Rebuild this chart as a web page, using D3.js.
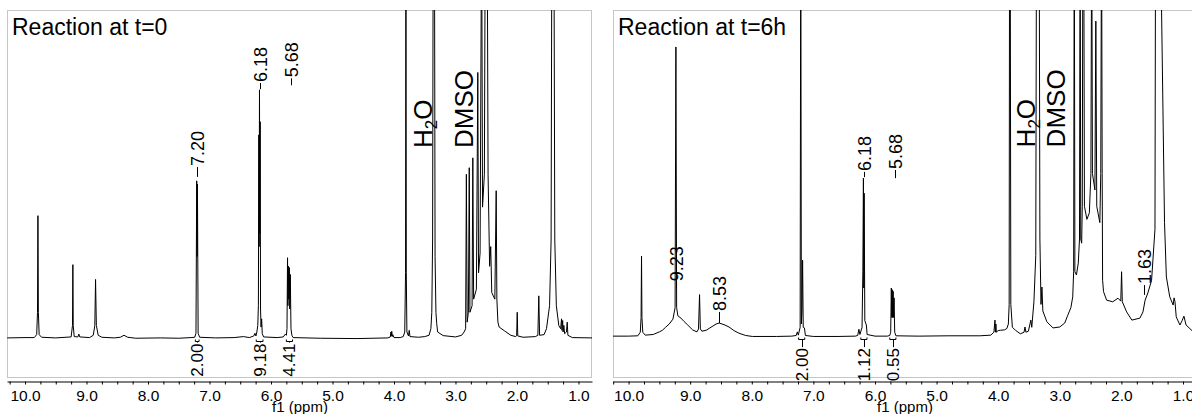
<!DOCTYPE html>
<html>
<head>
<meta charset="utf-8">
<script src="https://cdn.jsdelivr.net/npm/d3@7"></script>
<style>
  body { margin: 0; background: #fff; }
  svg { display: block; font-family: "Liberation Sans", Arial, Helvetica, sans-serif; }
</style>
</head>
<body>
<svg id="chart" width="1192" height="414"></svg>
<script>
// spectra as [ppm, intensity] pairs, intensity 100 = top of the frame
const spectrumT0 = [
  [10.29, 0.2], [10.0, 0.3], [9.85, 0.3], [9.81, 1.2], [9.797, 8], [9.79, 37.4], [9.783, 8], [9.77, 1.2], [9.73, 0.4], [9.5, 0.2],
  [9.25, 0.5], [9.228, 4], [9.222, 22.5], [9.216, 4], [9.20, 0.6], [9.14, 0.5], [9.125, 1.4], [9.11, 0.5],
  [8.95, 0.3], [8.89, 1], [8.865, 4], [8.853, 18], [8.84, 4], [8.81, 1], [8.75, 0.4],
  [8.55, 0.2], [8.45, 0.4], [8.39, 1], [8.33, 0.4], [8.2, 0.1], [7.8, 0.2], [7.5, 0.1], [7.3, 0.3],
  [7.24, 0.4], [7.22, 1.6], [7.208, 48], [7.202, 25], [7.196, 47], [7.185, 1.6], [7.16, 0.4],
  [6.9, 0.2], [6.6, 0.3], [6.45, 0.6], [6.35, 0.3], [6.28, 0.8], [6.26, 1.6], [6.245, 0.8], [6.23, 2],
  [6.215, 4], [6.205, 10], [6.198, 62], [6.193, 28], [6.187, 75.7], [6.182, 32], [6.176, 66], [6.17, 9],
  [6.162, 3.5], [6.152, 6], [6.142, 1.5], [6.12, 0.5],
  [5.9, 0.3], [5.80, 0.5], [5.765, 1.4], [5.75, 1], [5.74, 3], [5.731, 24.6], [5.725, 10], [5.716, 22], [5.71, 12],
  [5.701, 21.6], [5.695, 9], [5.686, 19.5], [5.675, 3], [5.66, 1], [5.64, 0.3],
  [5.2, 0.1], [4.6, 0], [4.1, 0.2], [4.06, 0.5], [4.05, 2], [4.044, 0.8], [4.036, 2.2], [4.03, 0.6], [4.02, 1.2],
  [4.0, 0.3], [3.9, 0.3], [3.85, 0.6],
  [3.825, 2], [3.812, 20], [3.806, 130], [3.80, 20], [3.79, 2], [3.765, 0.8], [3.752, 2.5], [3.74, 0.6], [3.6, 0.4],
  [3.5, 0.6], [3.43, 1], [3.40, 3],
  [3.385, 8], [3.372, 30], [3.362, 130], [3.342, 130], [3.332, 25], [3.318, 8], [3.305, 4.5], [3.29, 2], [3.2, 0.9],
  [3.0, 0.5], [2.9, 1], [2.86, 2],
  [2.835, 3], [2.823, 50], [2.81, 5], [2.79, 8], [2.776, 52], [2.765, 8], [2.73, 10], [2.718, 55], [2.705, 12],
  [2.66, 15], [2.637, 81], [2.625, 20], [2.60, 26], [2.575, 130], [2.56, 40], [2.53, 50], [2.515, 130], [2.50, 130],
  [2.485, 130], [2.47, 50], [2.445, 22], [2.427, 28], [2.41, 14], [2.36, 12], [2.338, 45], [2.327, 12], [2.31, 5],
  [2.29, 3.5], [2.2, 2.3], [2.1, 1], [2.02, 0.6],
  [2.005, 1], [1.996, 8], [1.987, 0.8], [1.9, 0.4], [1.7, 0.6], [1.66, 1], [1.645, 13], [1.632, 1], [1.56, 1.2],
  [1.52, 3], [1.47, 10], [1.445, 30], [1.432, 130], [1.40, 130], [1.385, 30], [1.36, 10], [1.32, 4], [1.29, 3],
  [1.275, 6], [1.268, 2.5], [1.257, 5.5], [1.25, 2], [1.238, 4], [1.225, 1.5], [1.195, 2], [1.183, 5], [1.172, 1],
  [1.1, 0.3], [0.78, 0.2]
]

const spectrumT6 = [
  [10.253, 0.3], [10.0, 0.3], [9.85, 0.4], [9.81, 1.5], [9.797, 6], [9.79, 24.8], [9.783, 6], [9.77, 1.5], [9.73, 0.6],
  [9.6, 0.8], [9.5, 1.6], [9.45, 2.1], [9.40, 3], [9.34, 4], [9.28, 5.5], [9.245, 9], [9.232, 88.7], [9.22, 9],
  [9.20, 6.5], [9.15, 5.8], [9.10, 4.8], [9.04, 3.7], [8.96, 2.2], [8.89, 1.6], [8.865, 2.5], [8.848, 13], [8.835, 2.5],
  [8.81, 1.8], [8.74, 2.1], [8.68, 2.8], [8.63, 3.4], [8.58, 4], [8.53, 4.3], [8.45, 3.8], [8.37, 3.1], [8.29, 2],
  [8.21, 1.2], [8.10, 0.5], [7.99, 0.2], [7.6, 0.2], [7.35, 0.3],
  [7.28, 0.5], [7.26, 1.6], [7.245, 0.6], [7.215, 3], [7.205, 130], [7.195, 4], [7.185, 8], [7.175, 23.5], [7.165, 3],
  [7.145, 2.8], [7.13, 0.5], [7.0, 0.2], [6.6, 0.2], [6.32, 0.3],
  [6.28, 0.5], [6.262, 2.4], [6.245, 0.8], [6.21, 3], [6.197, 20], [6.188, 48.6], [6.182, 15], [6.176, 44], [6.165, 5],
  [6.14, 3.7], [6.128, 0.8], [6.0, 0.3], [5.8, 0.3],
  [5.76, 0.5], [5.745, 1.5], [5.735, 15], [5.728, 6], [5.72, 14.5], [5.714, 6], [5.705, 14], [5.699, 6], [5.69, 12],
  [5.68, 1.5], [5.66, 0.4], [5.3, 0.3], [4.8, 0.4], [4.3, 0.4], [4.12, 0.6], [4.07, 1.5], [4.052, 5.2], [4.046, 1.5],
  [4.037, 4], [4.03, 1.5], [4.0, 2], [3.96, 2.1], [3.90, 2.2], [3.86, 2.6], [3.835, 4], [3.822, 10], [3.815, 130],
  [3.805, 130], [3.795, 10], [3.77, 3], [3.72, 2.1], [3.64, 1], [3.58, 1.5], [3.565, 3.1], [3.55, 1.5], [3.51, 1.8],
  [3.47, 5.2], [3.455, 3], [3.42, 10.8], [3.39, 25], [3.378, 130], [3.335, 130], [3.323, 30], [3.305, 10], [3.29, 15.3],
  [3.275, 8], [3.21, 4.7], [3.11, 2.8], [3.0, 3.1], [2.92, 4.3], [2.87, 6.7],
  [2.82, 9], [2.79, 12.3], [2.775, 20], [2.765, 130], [2.755, 20], [2.73, 19], [2.70, 22.6], [2.68, 30], [2.67, 130],
  [2.66, 30], [2.645, 28.7], [2.635, 40], [2.625, 130], [2.612, 130], [2.60, 40], [2.56, 36], [2.52, 38], [2.495, 50],
  [2.482, 130], [2.47, 50], [2.43, 45], [2.415, 96.6], [2.40, 40], [2.35, 35], [2.335, 50], [2.322, 130], [2.312, 50],
  [2.305, 17.4], [2.29, 13.9], [2.24, 11.3], [2.14, 10.8], [2.055, 11.9], [2.01, 11], [1.997, 20], [1.985, 10.8],
  [1.915, 7.7], [1.83, 5.2], [1.70, 5.8], [1.65, 7.7], [1.615, 11.3], [1.57, 13.5], [1.51, 17.4], [1.455, 33],
  [1.445, 130], [1.37, 130], [1.30, 35], [1.27, 18.4], [1.215, 12.3], [1.16, 9.8], [1.145, 12], [1.13, 10.8],
  [1.11, 6.2], [1.05, 3.7], [1.015, 5], [0.985, 6.4], [0.95, 3.7], [0.81, 1.2], [0.724, 0.8]
]

const titles = ['Reaction at t=0', 'Reaction at t=6h']

// peak picks: value, leader bottom / top in intensity units
const peaksT0 = ['7.20', '6.18', '5.68']
const peakLeadersT0 = [[49.2, 52.2], [75.9, 77.8], [77.1, 79.2]]
const peaksT6 = ['9.23', '8.53', '6.18', '5.68', '1.63']
const peakLeadersT6 = [[15.0, 16.8], [4.3, 7.7], [48.9, 50.5], [48.6, 51.1], [12.9, 15.9]]

// integrals: value, ppm range
const integralsT0 = ['2.00', '9.18', '4.41']
const integralRangesT0 = [[7.23, 7.17], [6.24, 6.13], [5.75, 5.65]]
const integralsT6 = ['2.00', '1.12', '0.55']
const integralRangesT6 = [[7.24, 7.14], [6.23, 6.13], [5.76, 5.66]]

// solvent labels: text, ppm of the text baseline
const solventsT0 = [['H2O', 3.38], ['DMSO', 2.72]]
const solventsT6 = [['H2O', 3.40], ['DMSO', 2.91]]

const svg = d3.select('#chart')
const frameTop = 10
const frameBottom = 378

const panels = [
  { id: 't0', left: 7, right: 592, ppm: [10.293, 0.78], yDomain: [-12, 100], spectrum: spectrumT0,
    title: titles[0], peaks: peaksT0, leaders: peakLeadersT0, integrals: integralsT0,
    ranges: integralRangesT0, solvents: solventsT0, integralGap: 5, axisTitleX: 300 },
  { id: 't6', left: 613, right: 1200, ppm: [10.253, 0.724], yDomain: [-12.5, 100], spectrum: spectrumT6,
    title: titles[1], peaks: peaksT6, leaders: peakLeadersT6, integrals: integralsT6,
    ranges: integralRangesT6, solvents: solventsT6, integralGap: 11, axisTitleX: 905 }
]

panels.forEach(drawPanel)

function drawPanel (p) {
  let x = d3.scaleLinear().domain(p.ppm).range([p.left, p.right])
  let y = d3.scaleLinear().domain(p.yDomain).range([frameBottom, frameTop])
  let g = svg.append('g').attr('class', 'panel-' + p.id)

  g.append('clipPath').attr('id', 'clip-' + p.id)
    .append('rect')
    .attr('x', p.left).attr('y', frameTop)
    .attr('width', p.right - p.left).attr('height', frameBottom - frameTop)

  g.append('rect')
    .attr('x', p.left + 0.5).attr('y', frameTop + 0.5)
    .attr('width', p.right - p.left - 1).attr('height', frameBottom - frameTop - 1)
    .attr('fill', 'none').attr('stroke', '#c6c6c6').attr('stroke-width', 1)

  let line = d3.line().x(d => x(d[0])).y(d => y(d[1]))
  g.append('path')
    .datum(p.spectrum)
    .attr('clip-path', 'url(#clip-' + p.id + ')')
    .attr('d', line)
    .attr('fill', 'none')
    .attr('stroke', '#000')
    .attr('stroke-width', 1)
    .attr('stroke-linejoin', 'round')

  g.append('text')
    .attr('x', p.left + 5).attr('y', 35)
    .attr('font-size', 23)
    .attr('fill', '#000')
    .text(p.title)

  // axis, minor tick every 0.25 ppm, label every 1 ppm
  let lo = Math.min(p.ppm[0], p.ppm[1])
  let hi = Math.max(p.ppm[0], p.ppm[1])
  let ticks = d3.range(Math.ceil(lo * 4), Math.floor(hi * 4) + 1).map(v => v / 4)
  let axis = d3.axisBottom(x)
    .tickValues(ticks)
    .tickSize(3)
    .tickSizeOuter(0)
    .tickPadding(5.5)
    .tickFormat(d => d % 1 === 0 ? d.toFixed(1) : '')
  let ax = g.append('g')
    .attr('transform', 'translate(0,381.5)')
    .call(axis)
  ax.attr('font-size', 15.5).attr('font-family', null)
  ax.selectAll('path, line').attr('stroke', '#000')
  ax.selectAll('text').attr('fill', '#000')

  g.append('text')
    .attr('x', p.axisTitleX).attr('y', 412)
    .attr('text-anchor', 'middle')
    .attr('font-size', 15)
    .text('f1 (ppm)')

  // peak picks
  p.peaks.forEach((label, i) => {
    let px = Math.round(x(+label)) + 0.5
    let [bottom, top] = p.leaders[i]
    g.append('line')
      .attr('x1', px).attr('x2', px)
      .attr('y1', y(bottom)).attr('y2', y(top))
      .attr('stroke', '#000').attr('stroke-width', 1)
    g.append('text')
      .attr('transform', `translate(${px},${y(top) - 1}) rotate(-90)`)
      .attr('dominant-baseline', 'central')
      .attr('font-size', 18)
      .text(label)
  })

  // integrals
  let base = y(0)
  p.integrals.forEach((label, i) => {
    let [a, b] = p.ranges[i]
    let xa = x(a)
    let xb = x(b)
    let xm = Math.round((xa + xb) / 2) + 0.5
    let bar = Math.round(base) + 2.5
    g.append('path')
      .attr('d', `M${xa},${bar - 2}V${bar}H${xb}V${bar - 2}M${xm},${bar}V${base + p.integralGap - 1}`)
      .attr('fill', 'none').attr('stroke', '#000').attr('stroke-width', 1)
    g.append('text')
      .attr('transform', `translate(${xm},${base + p.integralGap}) rotate(-90)`)
      .attr('text-anchor', 'end')
      .attr('dominant-baseline', 'central')
      .attr('font-size', 17)
      .text(label)
  })

  // solvent labels
  p.solvents.forEach(([label, ppm]) => {
    let t = g.append('text')
      .attr('transform', `translate(${x(ppm)},${y(58)}) rotate(-90)`)
      .attr('font-size', 26)
    if (label === 'H2O') {
      t.append('tspan').text('H')
      t.append('tspan').attr('font-size', 17).attr('dy', 5).text('2')
      t.append('tspan').attr('dy', -5).text('O')
    } else {
      t.text(label)
    }
  })
}
</script>
</body>
</html>
